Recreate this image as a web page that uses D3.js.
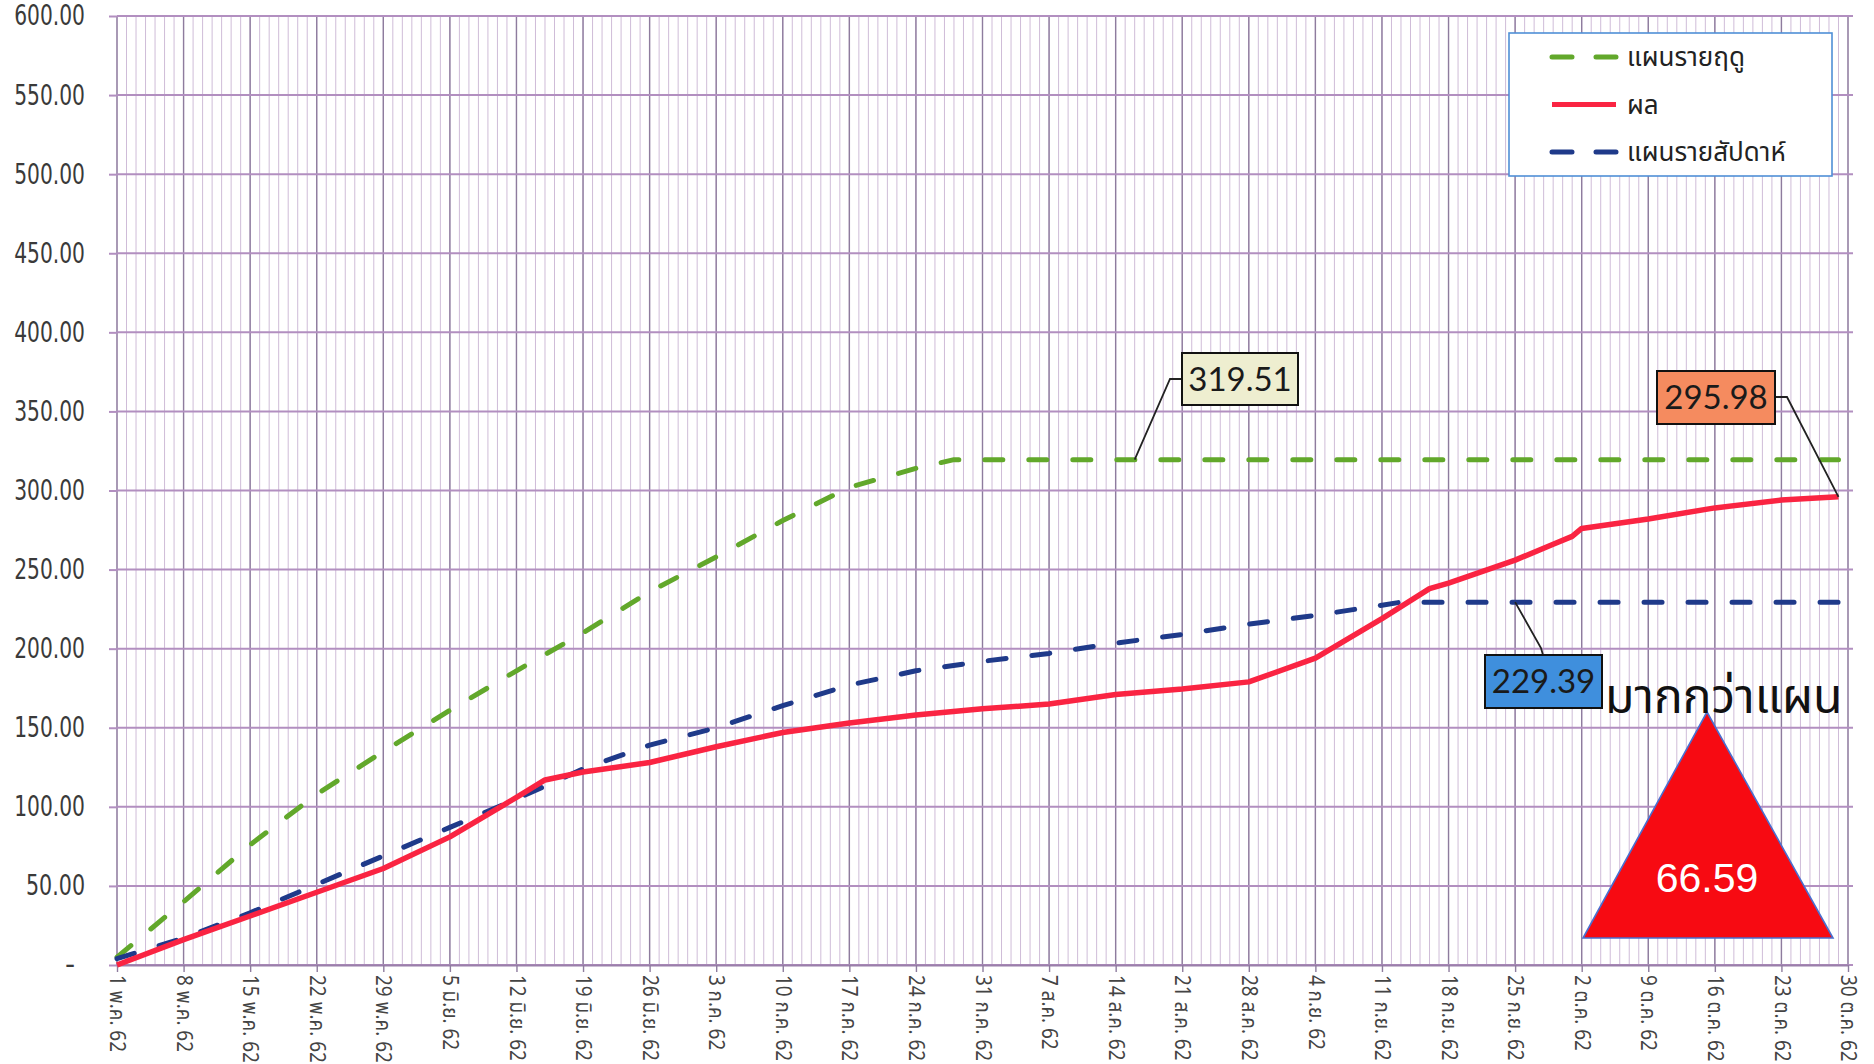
<!DOCTYPE html>
<html>
<head>
<meta charset="utf-8">
<script src="https://cdnjs.cloudflare.com/ajax/libs/d3/7.8.5/d3.min.js"></script>
<style>
  body { margin: 0; background: #fff; }
  svg { display: block; }
</style>
</head>
<body>
<div id="chart"></div>
<script>
// values (tons? whatever the unit is)
var seasonDates = ["2019-05-01","2019-05-08","2019-05-15","2019-05-22","2019-05-29","2019-06-05",
                   "2019-06-12","2019-06-19","2019-06-26","2019-07-03","2019-07-10","2019-07-17",
                   "2019-07-24","2019-07-28","2019-10-29"];
var seasonPlan  = [5, 40, 76, 108, 135, 161, 186, 210, 236, 258, 281, 302, 314, 319.51, 319.51];

var weeklyDates = ["2019-05-01","2019-05-08","2019-05-15","2019-05-22","2019-05-29","2019-06-05",
                   "2019-06-12","2019-06-19","2019-06-26","2019-07-03","2019-07-10","2019-07-17",
                   "2019-07-24","2019-07-31","2019-08-07","2019-08-14","2019-08-21","2019-08-28",
                   "2019-09-04","2019-09-11","2019-09-13","2019-10-29"];
var weeklyPlan  = [4, 17, 33, 51, 69, 87, 105, 124, 139, 150, 164, 177, 186, 192, 197, 203.5,
                   209, 215.5, 221, 227.5, 229.39, 229.39];

var resultDates = ["2019-05-01","2019-05-08","2019-05-15","2019-05-22","2019-05-29","2019-06-05",
                   "2019-06-12","2019-06-15","2019-06-19","2019-06-26","2019-07-03","2019-07-10",
                   "2019-07-17","2019-07-24","2019-07-31","2019-08-07","2019-08-14","2019-08-21",
                   "2019-08-28","2019-09-04","2019-09-11","2019-09-16","2019-09-18","2019-09-25",
                   "2019-09-29","2019-10-01","2019-10-02","2019-10-09","2019-10-16","2019-10-23",
                   "2019-10-29"];
var resultVals  = [0, 16, 31, 46, 61, 81, 106, 117, 122, 128, 138, 147, 153, 158, 162, 165, 171,
                   174.5, 179, 194, 219, 238, 241.5, 256, 266, 271, 276, 282, 289, 294, 295.98];

var seriesNames = ["แผนรายฤดู", "ผล", "แผนรายสัปดาห์"];
var thaiMonths  = ["ม.ค.","ก.พ.","มี.ค.","เม.ย.","พ.ค.","มิ.ย.","ก.ค.","ส.ค.","ก.ย.","ต.ค.","พ.ย.","ธ.ค."];
var yearShort   = "62";
var yTicks      = [0, 50, 100, 150, 200, 250, 300, 350, 400, 450, 500, 550, 600];
var overPlanText = "มากกว่าแผน";

var parseDay = d3.timeParse("%Y-%m-%d");
var fmt2 = d3.format(".2f");

function pack(dates, vals) {
  return dates.map(function(d, i) { return { date: parseDay(d), v: vals[i] }; });
}
var season = pack(seasonDates, seasonPlan);
var weekly = pack(weeklyDates, weeklyPlan);
var result = pack(resultDates, resultVals);

var W = 1874, H = 1064;
var startDay = parseDay("2019-05-01"), endDay = parseDay("2019-10-30");

var svg = d3.select("#chart").append("svg")
  .attr("width", W).attr("height", H)
  .style("background-color", "white");

var x = d3.scaleTime().domain([startDay, endDay]).range([117, 1848]);
var y = d3.scaleLinear().domain([0, 600]).range([965, 16]);

var thaiFont = "Tahoma, 'Noto Sans Thai', 'Leelawadee UI', 'DejaVu Sans', sans-serif";

// grid - one thin line a day, darker one every week
var days  = d3.timeDay.range(startDay, d3.timeDay.offset(endDay, 1));
var weeks = d3.timeDay.range(startDay, d3.timeDay.offset(endDay, 1), 7);

svg.append("g").selectAll("line").data(days).enter().append("line")
  .attr("x1", function(d) { return x(d); }).attr("x2", function(d) { return x(d); })
  .attr("y1", y(600)).attr("y2", y(0))
  .style("stroke", "#cfbcd8").style("stroke-width", 1);

svg.append("g").selectAll("line").data(weeks).enter().append("line")
  .attr("x1", function(d) { return x(d); }).attr("x2", function(d) { return x(d); })
  .attr("y1", y(600)).attr("y2", y(0))
  .style("stroke", "#8e7c9e").style("stroke-width", 1.4);

svg.append("g").selectAll("line").data(yTicks).enter().append("line")
  .attr("x1", 117).attr("x2", 1853)
  .attr("y1", function(d) { return y(d); }).attr("y2", function(d) { return y(d); })
  .style("stroke", "#b28fc0").style("stroke-width", 2);

// axes
var yAxis = d3.axisLeft(y).tickValues(yTicks).tickSize(8).tickPadding(24)
  .tickFormat(function(v) { return v === 0 ? "-" : fmt2(v); });
var gy = svg.append("g").attr("transform", "translate(117,0)").call(yAxis);
gy.select(".domain").remove();
gy.selectAll(".tick line").style("stroke", "#b28fc0").style("stroke-width", 2);
// scanned labels are narrow and tall, squeeze them
gy.selectAll("text")
  .style("font-family", "'DejaVu Sans', sans-serif")
  .style("font-size", "28px").style("fill", "#3a3a3a")
  .each(function(d) {
    if (d !== 0) {
      var n = fmt2(d).length;
      d3.select(this).attr("textLength", n * 11.8).attr("lengthAdjust", "spacingAndGlyphs");
    }
  });
gy.selectAll(".tick").filter(function(d) { return d === 0; }).select("text").attr("x", -42);

var xAxis = d3.axisBottom(x).tickValues(weeks).tickSize(7).tickSizeOuter(0)
  .tickFormat(function(d) { return d.getDate() + " " + thaiMonths[d.getMonth()] + " " + yearShort; });
var gx = svg.append("g").attr("transform", "translate(0," + y(0) + ")").call(xAxis);
gx.select(".domain").style("stroke", "#9a7faa").style("stroke-width", 2);
gx.selectAll(".tick line").style("stroke", "#8e7c9e").style("stroke-width", 1.4);
gx.selectAll("text")
  .attr("transform", "rotate(90) scale(0.9,1)")
  .attr("x", 11).attr("y", 0).attr("dy", "0.35em")
  .style("text-anchor", "start")
  .style("font-family", thaiFont).style("font-size", "21px").style("fill", "#444");

// the three lines
var line = d3.line()
  .x(function(d) { return x(d.date); })
  .y(function(d) { return y(d.v); });

var styles = [
  { data: season, color: "#62a82b", dash: "18 26" },
  { data: result, color: "#fa2442", dash: null },
  { data: weekly, color: "#1f3a8a", dash: "18 26" }
];
// draw order: green, navy, red on top
[styles[0], styles[2], styles[1]].forEach(function(s) {
  svg.append("path").datum(s.data)
    .attr("d", line)
    .style("fill", "none").style("stroke", s.color).style("stroke-width", s.dash ? 5 : 5.5)
    .style("stroke-linecap", s.dash ? "round" : "butt").style("stroke-linejoin", "round")
    .style("stroke-dasharray", s.dash);
});

// legend
var lg = svg.append("g");
lg.append("rect").attr("x", 1509).attr("y", 33).attr("width", 323).attr("height", 143)
  .style("fill", "white").style("stroke", "#4f8fd6").style("stroke-width", 1.6);
styles.forEach(function(s, i) {
  var ly = 57 + i * 47.5;
  lg.append("line").attr("x1", 1552).attr("x2", 1616).attr("y1", ly).attr("y2", ly)
    .style("stroke", s.color).style("stroke-width", 5)
    .style("stroke-linecap", s.dash ? "round" : "butt")
    .style("stroke-dasharray", s.dash ? "20 24" : null);
  lg.append("text").attr("x", 1627).attr("y", ly).attr("dy", "0.35em")
    .text(seriesNames[i])
    .style("font-family", thaiFont).style("font-size", "26px").style("fill", "#222");
});

// value callouts
function callout(bx, by, bw, bh, fill, label, pts) {
  svg.append("path")
    .attr("d", d3.line()(pts))
    .style("fill", "none").style("stroke", "#222").style("stroke-width", 1.8);
  svg.append("rect").attr("x", bx).attr("y", by).attr("width", bw).attr("height", bh)
    .style("fill", fill).style("stroke", "#111").style("stroke-width", 2);
  svg.append("text").attr("x", bx + bw / 2).attr("y", by + bh / 2).attr("dy", "0.36em")
    .attr("text-anchor", "middle").text(label)
    .style("font-family", "Lato, 'Open Sans', sans-serif").style("font-size", "33px").style("fill", "#1a1a1a");
}

var seasonEnd = seasonPlan[seasonPlan.length - 1];
var weeklyEnd = weeklyPlan[weeklyPlan.length - 1];
var resultEnd = resultVals[resultVals.length - 1];
var lastDay = parseDay(resultDates[resultDates.length - 1]);

callout(1182, 353, 116, 52, "#eeeed0", fmt2(seasonEnd),
  [[1182, 379], [1170, 379], [x(parseDay("2019-08-16")), y(seasonEnd)]]);
callout(1657, 371, 118, 53, "#f58b5f", fmt2(resultEnd),
  [[1775, 397], [1787, 397], [x(lastDay), y(resultEnd)]]);
callout(1485, 655, 117, 53, "#3f8fdd", fmt2(weeklyEnd),
  [[x(parseDay("2019-09-25")), y(weeklyEnd)], [1541, 648], [1543, 655]]);

// over-plan marker
svg.append("path")
  .attr("d", "M1707,712 L1833,938 L1583,938 Z")
  .style("fill", "#f70a12").style("stroke", "#4a6fd0").style("stroke-width", 1.6);
svg.append("text").attr("x", 1707).attr("y", 892).attr("text-anchor", "middle")
  .text(fmt2(resultEnd - weeklyEnd))
  .style("font-family", "'Liberation Sans', Arial, sans-serif").style("font-size", "41px").style("fill", "white");
svg.append("text").attr("x", 1605).attr("y", 713).text(overPlanText)
  .style("font-family", thaiFont).style("font-size", "48px").style("fill", "#111");
</script>
</body>
</html>
